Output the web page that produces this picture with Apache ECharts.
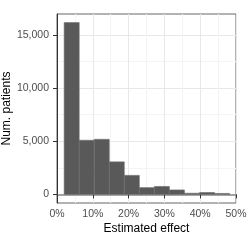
<!DOCTYPE html>
<html>
<head>
<meta charset="utf-8">
<script src="https://cdn.jsdelivr.net/npm/echarts@6/dist/echarts.min.js"></script>
<style>html,body{margin:0;padding:0;background:#fff}#c{width:250px;height:250px}</style>
</head>
<body>
<div id="c"></div>
<script>
// Histogram bin edges (percent) and counts
const binEdges = [2.0, 6.2, 10.4, 14.6, 18.8, 23.0, 27.2, 31.4, 35.6, 39.8, 44.0, 48.2];
const counts = [16150, 5090, 5180, 3060, 1790, 640, 750, 420, 110, 180, 90];
const yTicks = [0, 5000, 10000, 15000];
const yMinorTicks = [2500, 7500, 12500];
const xTicks = [0, 10, 20, 30, 40, 50];
const xTitle = 'Estimated effect';
const yTitle = 'Num. patients';

const yMin = -808, yMax = 16958;
const font = 'Liberation Sans, Arial, Helvetica, sans-serif';

const data = counts.map((c, i) => [binEdges[i], binEdges[i + 1], c]);

const chart = echarts.init(document.getElementById('c'), null, {renderer: 'canvas'});
chart.setOption({
  animation: false,
  grid: {left: 57, right: 14, top: 14, bottom: 47, containLabel: false, outerBoundsMode: 'none',
    show: true, borderColor: '#666', borderWidth: 1, backgroundColor: 'transparent'},
  xAxis: {
    type: 'value', min: 0, max: 50, interval: 10,
    name: xTitle, nameLocation: 'middle', nameGap: 20, nameMoveOverlap: false,
    nameTextStyle: {fontFamily: font, fontSize: 12, color: '#000'},
    axisLine: {show: true, lineStyle: {color: '#888', width: 1.5}},
    axisTick: {show: true, length: 4, lineStyle: {color: '#333'}},
    axisLabel: {fontFamily: font, fontSize: 10.5, color: '#4d4d4d', margin: 6, formatter: v => v + '%'},
    splitLine: {show: true, lineStyle: {color: '#e8e8e8', width: 1}},
    minorTick: {show: false, splitNumber: 2},
    minorSplitLine: {show: true, lineStyle: {color: '#f4f4f4', width: 1}}
  },
  yAxis: [{
    type: 'value', min: yMin, max: yMax,
    name: yTitle, nameLocation: 'middle', nameGap: 44, nameMoveOverlap: false,
    nameTextStyle: {fontFamily: font, fontSize: 12, color: '#000'},
    axisLine: {show: true, lineStyle: {color: '#333', width: 1}},
    axisTick: {show: true, length: 4, customValues: yTicks, lineStyle: {color: '#333'}},
    axisLabel: {fontFamily: font, fontSize: 10.5, color: '#4d4d4d', margin: 8, customValues: yTicks,
      formatter: v => v.toLocaleString('en-US')},
    splitLine: {show: true, lineStyle: {color: '#e8e8e8', width: 1}}
  }, {
    type: 'value', min: yMin, max: yMax, position: 'left',
    axisLine: {show: false}, axisLabel: {show: false, customValues: yMinorTicks},
    axisTick: {show: false, customValues: yMinorTicks},
    splitLine: {show: true, lineStyle: {color: '#f4f4f4', width: 1}}
  }],
  series: [{
    type: 'custom',
    yAxisIndex: 0,
    encode: {x: [0, 1], y: 2},
    data: data,
    renderItem: function (params, api) {
      const p0 = api.coord([api.value(0), 0]);
      const p1 = api.coord([api.value(1), api.value(2)]);
      return {
        type: 'rect',
        shape: {x: p0[0], y: p1[1], width: p1[0] - p0[0], height: p0[1] - p1[1]},
        style: {fill: '#595959', stroke: '#6e6e6e', lineWidth: 0.6}
      };
    }
  }]
});
</script>
</body>
</html>
